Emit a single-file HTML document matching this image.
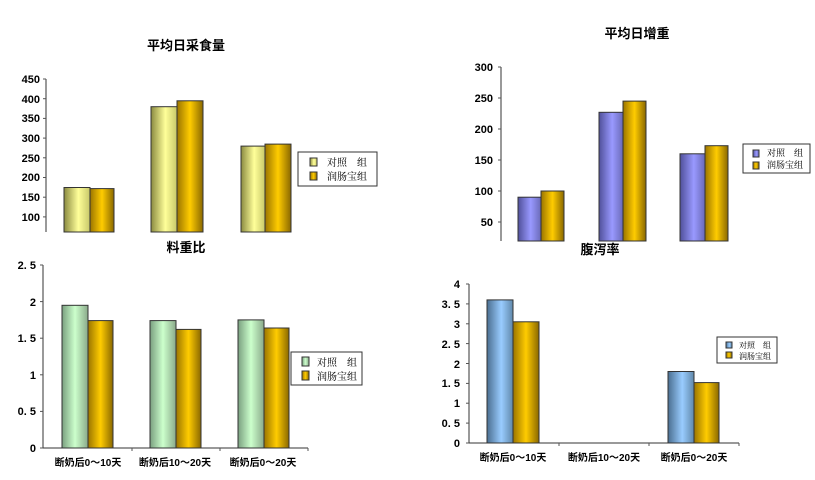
<!DOCTYPE html>
<html><head><meta charset="utf-8"><style>
html,body{margin:0;padding:0;background:#fff;}
svg{display:block;font-family:"Liberation Serif","Noto Serif CJK SC",serif;}
.t{font-weight:bold;font-size:13px;font-family:"Liberation Sans","Noto Sans CJK SC",sans-serif;}
.k{font-weight:bold;font-size:11px;font-family:"Liberation Sans","Noto Sans CJK SC",sans-serif;}
.l{font-size:10px;}
.x{font-weight:bold;font-size:10px;font-family:"Liberation Sans","Noto Sans CJK SC",sans-serif;}
</style></head><body>
<svg width="815" height="480" viewBox="0 0 815 480">
<defs>
<linearGradient id="gy" x1="0" x2="1"><stop offset="0" stop-color="#8a8a40"/><stop offset="0.55" stop-color="#ffff99"/><stop offset="1" stop-color="#c8c86a"/></linearGradient>
<linearGradient id="go" x1="0" x2="1"><stop offset="0" stop-color="#9a7400"/><stop offset="0.5" stop-color="#ffcc00"/><stop offset="1" stop-color="#8a6800"/></linearGradient>
<linearGradient id="gp" x1="0" x2="1"><stop offset="0" stop-color="#50509a"/><stop offset="0.55" stop-color="#9999ff"/><stop offset="1" stop-color="#6a6ab8"/></linearGradient>
<linearGradient id="gg" x1="0" x2="1"><stop offset="0" stop-color="#7aa080"/><stop offset="0.5" stop-color="#ccffcc"/><stop offset="1" stop-color="#8aaa8a"/></linearGradient>
<linearGradient id="gb" x1="0" x2="1"><stop offset="0" stop-color="#4a6e90"/><stop offset="0.55" stop-color="#99ccff"/><stop offset="1" stop-color="#6088aa"/></linearGradient>
</defs>
<g stroke="#333" stroke-width="1">
<!-- chart1 -->
<line x1="46" y1="79" x2="46" y2="232"/>
<g stroke="#555"><line x1="43" y1="79" x2="46" y2="79"/><line x1="43" y1="98.7" x2="46" y2="98.7"/><line x1="43" y1="118.4" x2="46" y2="118.4"/><line x1="43" y1="138.1" x2="46" y2="138.1"/><line x1="43" y1="157.8" x2="46" y2="157.8"/><line x1="43" y1="177.5" x2="46" y2="177.5"/><line x1="43" y1="197.2" x2="46" y2="197.2"/><line x1="43" y1="216.9" x2="46" y2="216.9"/></g>
<rect x="64" y="187.5" width="26" height="44.5" fill="url(#gy)"/>
<rect x="90" y="188.6" width="24" height="43.4" fill="url(#go)"/>
<rect x="151" y="106.7" width="26" height="125.3" fill="url(#gy)"/>
<rect x="177" y="100.8" width="26" height="131.2" fill="url(#go)"/>
<rect x="241" y="146.1" width="24" height="85.9" fill="url(#gy)"/>
<rect x="265" y="144.1" width="26" height="87.9" fill="url(#go)"/>
<rect x="298" y="152" width="79" height="34" fill="#fff"/>
<rect x="310" y="158" width="7" height="8" fill="url(#gy)"/>
<rect x="310" y="172" width="7" height="8" fill="url(#go)"/>
<!-- chart4 -->
<line x1="501" y1="67" x2="501" y2="241"/>
<g stroke="#555"><line x1="498" y1="67" x2="501" y2="67"/><line x1="498" y1="98" x2="501" y2="98"/><line x1="498" y1="129" x2="501" y2="129"/><line x1="498" y1="160" x2="501" y2="160"/><line x1="498" y1="191" x2="501" y2="191"/><line x1="498" y1="222" x2="501" y2="222"/></g>
<rect x="518" y="197.2" width="23" height="43.8" fill="url(#gp)"/>
<rect x="541" y="191" width="23" height="50" fill="url(#go)"/>
<rect x="599" y="112.3" width="24" height="128.7" fill="url(#gp)"/>
<rect x="623" y="101.1" width="23" height="139.9" fill="url(#go)"/>
<rect x="680" y="153.8" width="25" height="87.2" fill="url(#gp)"/>
<rect x="705" y="145.7" width="23" height="95.3" fill="url(#go)"/>
<rect x="743" y="144" width="67" height="29" fill="#fff"/>
<rect x="753" y="150" width="6" height="7" fill="url(#gp)"/>
<rect x="753" y="162" width="6" height="7" fill="url(#go)"/>
<!-- chart2 -->
<line x1="43" y1="265" x2="43" y2="448"/>
<line x1="43" y1="448" x2="308" y2="448"/>
<g stroke="#555"><line x1="40" y1="265" x2="43" y2="265"/><line x1="40" y1="301.6" x2="43" y2="301.6"/><line x1="40" y1="338.2" x2="43" y2="338.2"/><line x1="40" y1="374.8" x2="43" y2="374.8"/><line x1="40" y1="411.4" x2="43" y2="411.4"/><line x1="40" y1="448" x2="43" y2="448"/>
<line x1="132" y1="448" x2="132" y2="451"/><line x1="220" y1="448" x2="220" y2="451"/><line x1="308" y1="448" x2="308" y2="451"/></g>
<rect x="62" y="305.3" width="26" height="142.7" fill="url(#gg)"/>
<rect x="88" y="320.6" width="25" height="127.4" fill="url(#go)"/>
<rect x="150" y="320.6" width="26" height="127.4" fill="url(#gg)"/>
<rect x="176" y="329.4" width="25" height="118.6" fill="url(#go)"/>
<rect x="238" y="319.9" width="26" height="128.1" fill="url(#gg)"/>
<rect x="264" y="328" width="25" height="120" fill="url(#go)"/>
<rect x="291" y="352" width="71" height="33" fill="#fff"/>
<rect x="302" y="357" width="7" height="9" fill="url(#gg)"/>
<rect x="302" y="371" width="7" height="9" fill="url(#go)"/>
<!-- chart3 -->
<line x1="469" y1="284" x2="469" y2="443"/>
<line x1="469" y1="443" x2="739" y2="443"/>
<g stroke="#555"><line x1="466" y1="284" x2="469" y2="284"/><line x1="466" y1="303.9" x2="469" y2="303.9"/><line x1="466" y1="323.8" x2="469" y2="323.8"/><line x1="466" y1="343.6" x2="469" y2="343.6"/><line x1="466" y1="363.5" x2="469" y2="363.5"/><line x1="466" y1="383.4" x2="469" y2="383.4"/><line x1="466" y1="403.2" x2="469" y2="403.2"/><line x1="466" y1="423.1" x2="469" y2="423.1"/><line x1="466" y1="443" x2="469" y2="443"/>
<line x1="559" y1="443" x2="559" y2="446"/><line x1="649" y1="443" x2="649" y2="446"/><line x1="739" y1="443" x2="739" y2="446"/></g>
<rect x="487" y="299.9" width="26" height="143.1" fill="url(#gb)"/>
<rect x="513" y="321.8" width="26" height="121.2" fill="url(#go)"/>
<rect x="668" y="371.5" width="26" height="71.5" fill="url(#gb)"/>
<rect x="694" y="382.6" width="25" height="60.4" fill="url(#go)"/>
<rect x="717" y="337" width="60" height="26" fill="#fff"/>
<rect x="726" y="342" width="6" height="6" fill="url(#gb)"/>
<rect x="726" y="352" width="6" height="6" fill="url(#go)"/>
</g>
<!-- titles -->
<text class="t" x="186" y="50" text-anchor="middle">平均日采食量</text>
<text class="t" x="637" y="38" text-anchor="middle">平均日增重</text>
<text class="t" x="186" y="252" text-anchor="middle">料重比</text>
<text class="t" x="600" y="254" text-anchor="middle">腹泻率</text>
<!-- tick labels chart1 -->
<g class="k" text-anchor="end">
<text x="40" y="83">450</text><text x="40" y="103">400</text><text x="40" y="122">350</text><text x="40" y="142">300</text><text x="40" y="162">250</text><text x="40" y="181">200</text><text x="40" y="201">150</text><text x="40" y="221">100</text>
<text x="493" y="71">300</text><text x="493" y="102">250</text><text x="493" y="133">200</text><text x="493" y="164">150</text><text x="493" y="195">100</text><text x="493" y="226">50</text>
<text x="36" y="269">2. 5</text><text x="36" y="306">2</text><text x="36" y="342">1. 5</text><text x="36" y="379">1</text><text x="36" y="415">0. 5</text><text x="36" y="452">0</text>
<text x="460" y="288">4</text><text x="460" y="308">3. 5</text><text x="460" y="328">3</text><text x="460" y="348">2. 5</text><text x="460" y="368">2</text><text x="460" y="387">1. 5</text><text x="460" y="407">1</text><text x="460" y="427">0. 5</text><text x="460" y="447">0</text>
</g>
<!-- legends -->
<g class="l">
<text x="327" y="166">对照　组</text><text x="327" y="180">润肠宝组</text>
<text x="767" y="156" font-size="9">对照　组</text><text x="767" y="168" font-size="9">润肠宝组</text>
<text x="317" y="366">对照　组</text><text x="317" y="380">润肠宝组</text>
<text x="739" y="348" font-size="8">对照　组</text><text x="739" y="359" font-size="8">润肠宝组</text>
</g>
<!-- x labels -->
<g class="x" text-anchor="middle">
<text x="88" y="466">断奶后0～10天</text><text x="175" y="466">断奶后10～20天</text><text x="263" y="466">断奶后0～20天</text>
<text x="513" y="461">断奶后0～10天</text><text x="604" y="461">断奶后10～20天</text><text x="694" y="461">断奶后0～20天</text>
</g>
</svg>
</body></html>
